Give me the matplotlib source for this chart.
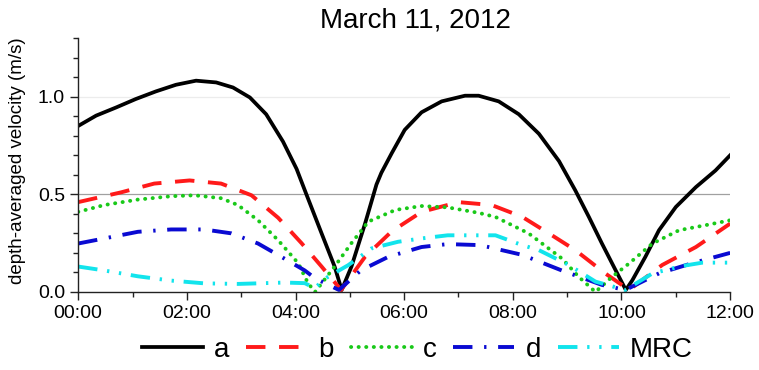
import numpy as np
import matplotlib.pyplot as plt
from matplotlib.ticker import MultipleLocator

plt.rcParams['font.family'] = ['Liberation Sans', 'DejaVu Sans']

# hours after 00:00 and depth-averaged velocity (m/s)
a_t = [0, 0.33, 0.70, 1.06, 1.43, 1.80, 2.17, 2.54, 2.85, 3.16, 3.46, 3.77, 4.02,
       4.2, 4.48, 4.72, 4.85, 5.03, 5.28, 5.49, 5.58, 5.77, 6.01, 6.32, 6.69, 7.12,
       7.37, 7.74, 8.11, 8.48, 8.85, 9.15, 9.4, 9.64, 9.89, 10.08, 10.2, 10.44,
       10.69, 11.0, 11.37, 11.73, 12.0]
a_v = [0.85, 0.903, 0.945, 0.988, 1.027, 1.061, 1.082, 1.073, 1.047, 0.996, 0.91, 0.77, 0.63,
       0.50, 0.30, 0.13, 0.01, 0.13, 0.35, 0.55, 0.61, 0.71, 0.83, 0.92, 0.976, 1.005,
       1.005, 0.976, 0.91, 0.81, 0.67, 0.52, 0.384, 0.248, 0.112, 0.01, 0.06, 0.18,
       0.316, 0.435, 0.537, 0.622, 0.70]

b_t = [0, 0.79, 1.40, 2.05, 2.63, 3.19, 3.68, 4.11, 4.48, 4.84, 5.28, 5.77, 6.32,
       7.0, 7.61, 8.17, 8.72, 9.15, 9.7, 10.14, 10.75, 11.37, 12.0]
b_v = [0.46, 0.51, 0.555, 0.571, 0.555, 0.495, 0.38, 0.25, 0.13, 0.01, 0.18, 0.31, 0.41,
       0.46, 0.445, 0.385, 0.29, 0.214, 0.095, 0.01, 0.138, 0.23, 0.35]

c_t = [0, 0.48, 1.1, 1.71, 2.14, 2.63, 2.94, 3.31, 3.68, 4.05, 4.23, 4.36, 4.72,
       5.03, 5.34, 5.84, 6.32, 6.8, 7.37, 7.68, 8.29, 8.91, 9.21, 9.52, 9.83, 10.14,
       10.57, 11.06, 11.55, 12.0]
c_v = [0.41, 0.445, 0.473, 0.49, 0.495, 0.48, 0.445, 0.367, 0.265, 0.147, 0.045, 0.0, 0.13,
       0.25, 0.36, 0.42, 0.44, 0.433, 0.405, 0.384, 0.30, 0.17, 0.078, 0.0, 0.078, 0.146,
       0.248, 0.316, 0.342, 0.367]

d_t = [0, 0.48, 1.1, 1.71, 2.32, 2.82, 3.31, 3.8, 4.17, 4.36, 4.8, 5.2, 5.71, 6.32,
       6.8, 7.37, 7.55, 8.17, 8.9, 9.64, 10.07, 10.69, 11.3, 12.0]
d_v = [0.248, 0.274, 0.308, 0.32, 0.32, 0.30, 0.248, 0.17, 0.11, 0.07, 0.01, 0.11, 0.18, 0.23,
       0.245, 0.24, 0.23, 0.19, 0.11, 0.036, 0.01, 0.095, 0.147, 0.20]

m_t = [0, 0.48, 1.1, 1.71, 2.32, 2.94, 3.8, 4.17, 4.35, 4.6, 4.97, 5.4, 5.89, 6.32,
       6.8, 7.3, 7.68, 8.17, 8.48, 9.03, 9.52, 10.07, 10.57, 11.12, 11.49, 12.0]
m_v = [0.13, 0.11, 0.08, 0.058, 0.044, 0.041, 0.048, 0.045, 0.02, 0.078, 0.137, 0.223, 0.257, 0.274,
       0.29, 0.29, 0.29, 0.24, 0.214, 0.138, 0.053, 0.01, 0.095, 0.133, 0.15, 0.15]

hour_ticks = [0, 2, 4, 6, 8, 10, 12]
hour_labels = ['00:00', '02:00', '04:00', '06:00', '08:00', '10:00', '12:00']

fig = plt.figure(figsize=(7.59, 3.70), dpi=100)
ax = fig.add_axes([0.103, 0.211, 0.859, 0.686])

# reference lines at 0.5 and 1.0
ax.axhline(0.5, color='#a0a0a0', lw=0.9, zorder=0)
ax.axhline(1.0, color='#ececec', lw=0.9, zorder=0)

ax.plot(a_t, a_v, color='black', lw=2.7, solid_joinstyle='round', label='a')
ax.plot(b_t, b_v, color='#ff1a1a', lw=2.8, dashes=(5, 3.5), label='b')
ax.plot(c_t, c_v, color='#19c919', lw=2.8, dashes=(0.05, 1.9),
        dash_capstyle='round', label='c')
ax.plot(d_t, d_v, color='#0a0ad2', lw=2.8, dashes=(5, 3, 0.6, 3), label='d')
ax.plot(m_t, m_v, color='#12e4ec', lw=2.8, dashes=(5, 2.5, 0.6, 2.5, 0.6, 2.5),
        label='MRC')

ax.set_xlim(0, 12)
ax.set_ylim(0, 1.3)
ax.set_xticks(hour_ticks)
ax.set_xticklabels(hour_labels)
ax.xaxis.set_minor_locator(MultipleLocator(1))
ax.set_yticks([0.0, 0.5, 1.0])
ax.yaxis.set_minor_locator(MultipleLocator(0.1))
ax.tick_params(axis='both', which='major', labelsize=14, length=6, width=1, colors='#222222')
ax.tick_params(axis='both', which='minor', length=3.5, width=1, colors='#222222')
ax.tick_params(axis='both', labelcolor='black')
for side in ['top', 'right']:
    ax.spines[side].set_visible(False)
for side in ['left', 'bottom']:
    ax.spines[side].set_color('#222222')
    ax.spines[side].set_linewidth(1)

fig.text(0.547, 0.945, 'March 11, 2012', ha='center', va='center', fontsize=20)
fig.text(0.023, 0.565, 'depth-averaged velocity (m/s)', rotation=90,
         ha='center', va='center', fontsize=13.5)

fig.legend(loc='center', bbox_to_anchor=(0.55, 0.055), ncol=5, frameon=False,
           fontsize=20, handlelength=2.2, handletextpad=0.4, columnspacing=0.6)

plt.savefig('out.png', dpi=100)
